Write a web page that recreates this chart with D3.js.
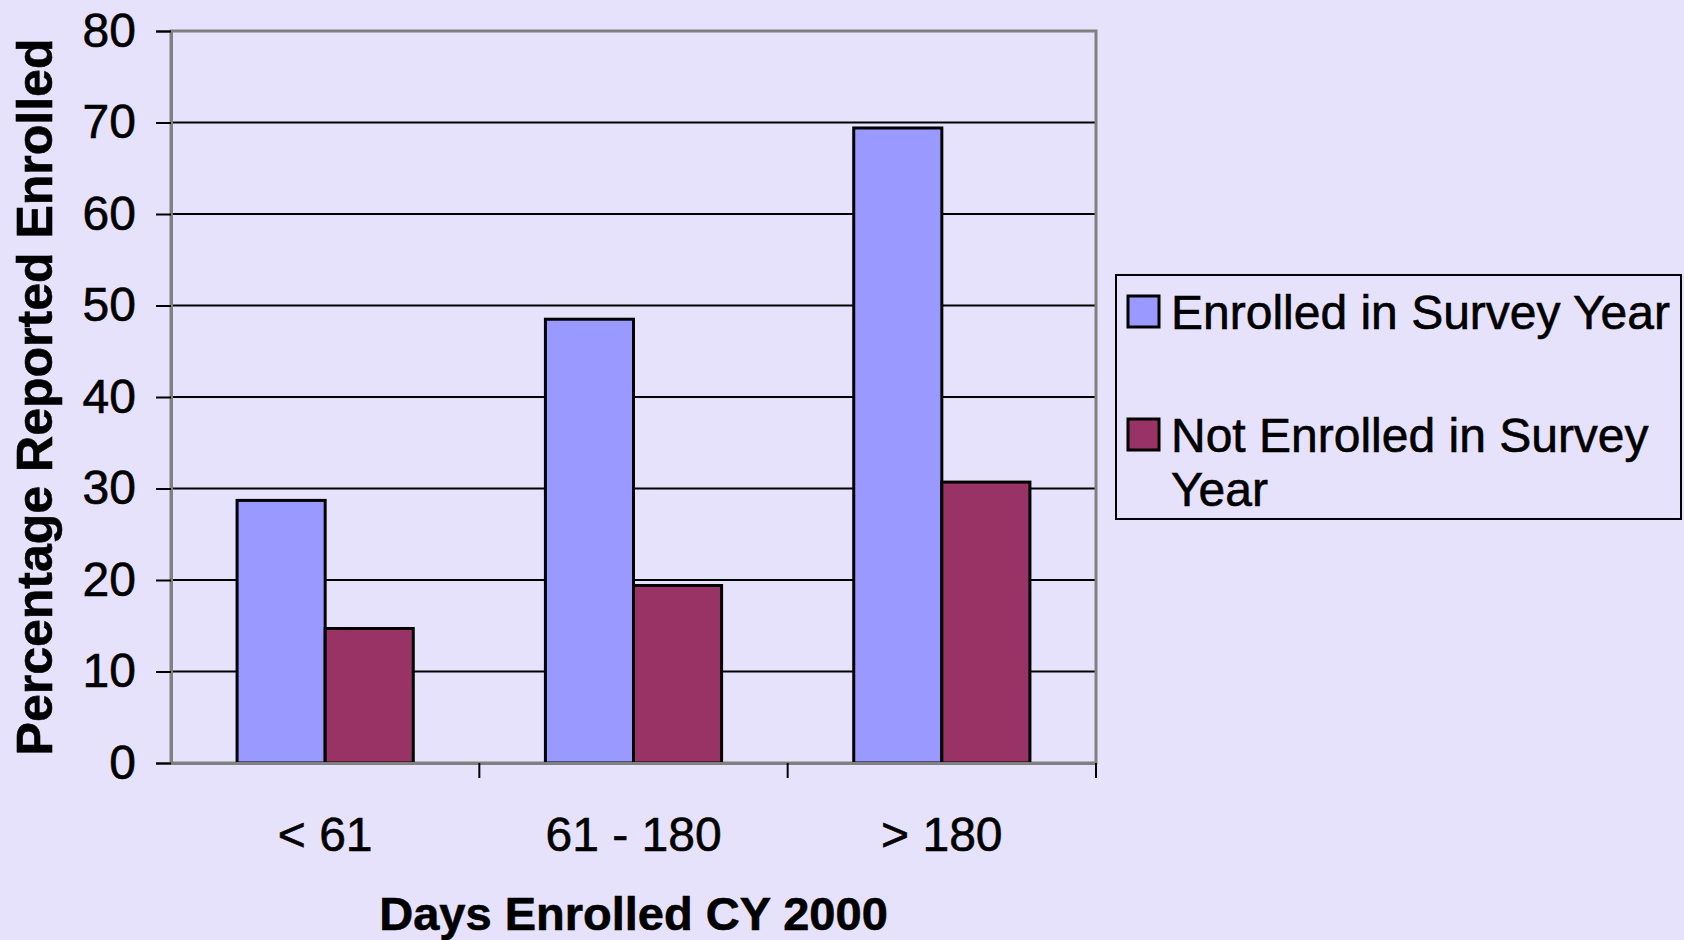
<!DOCTYPE html>
<html>
<head>
<meta charset="utf-8">
<script src="https://cdn.jsdelivr.net/npm/d3@7"></script>
<style>
  html, body { margin: 0; padding: 0; background: #e6e2fc; }
  svg { display: block; font-family: "Liberation Sans", Arial, sans-serif; }
  text { stroke: #000; stroke-width: 0.6px; }
</style>
</head>
<body>
<svg id="chart" width="1684" height="940"></svg>
<script>
// chart data
var categories = ["< 61", "61 - 180", "> 180"];
var seriesNames = ["Enrolled in Survey Year", "Not Enrolled in Survey Year"];
var legendLines = [["Enrolled in Survey Year"], ["Not Enrolled in Survey", "Year"]];
var enrolled = [28.7, 48.5, 69.4];
var notEnrolled = [14.7, 19.4, 30.7];
var yTicks = [0, 10, 20, 30, 40, 50, 60, 70, 80];
var colors = ["#9999ff", "#993366"];

var svg = d3.select("#chart");
// plot area (note: "top" is reserved on window, so use plotTop etc)
var plotLeft = 171, plotRight = 1096, plotTop = 31, plotBottom = 763;

var x = d3.scaleBand().domain(categories).range([plotLeft, plotRight]);
var inner = d3.scaleBand().domain(seriesNames)
    .range([0, x.bandwidth()]).paddingInner(0).paddingOuter(0.75);
var y = d3.scaleLinear().domain([0, 80]).range([plotBottom, plotTop]);

// gridlines
svg.append("g")
    .selectAll("line")
    .data(yTicks.filter(function(d) { return d > 0 && d < 80; }))
    .join("line")
      .attr("x1", plotLeft).attr("x2", plotRight)
      .attr("y1", function(d) { return y(d); })
      .attr("y2", function(d) { return y(d); })
      .attr("stroke", "#000").attr("stroke-width", 2);

// plot frame
svg.append("rect")
    .attr("x", plotLeft).attr("y", plotTop)
    .attr("width", plotRight - plotLeft).attr("height", plotBottom - plotTop)
    .attr("fill", "none").attr("stroke", "#808080").attr("stroke-width", 3);

// bars
var rows = categories.map(function(c, i) {
    return [{cat: c, s: 0, v: enrolled[i]}, {cat: c, s: 1, v: notEnrolled[i]}];
});
svg.append("g")
    .selectAll("g")
    .data(rows)
    .join("g")
      .attr("transform", function(d) { return "translate(" + x(d[0].cat) + ",0)"; })
    .selectAll("rect")
    .data(function(d) { return d; })
    .join("rect")
      .attr("x", function(d) { return inner(seriesNames[d.s]); })
      .attr("width", inner.bandwidth())
      .attr("y", function(d) { return y(d.v); })
      .attr("height", function(d) { return y(0) - y(d.v); })
      .attr("fill", function(d) { return colors[d.s]; })
      .attr("stroke", "#000").attr("stroke-width", 3);

// y axis
var yAxis = d3.axisLeft(y).tickValues(yTicks).tickSize(15).tickPadding(20);
var yg = svg.append("g").attr("transform", "translate(" + plotLeft + ",0)").call(yAxis);
yg.select(".domain").attr("stroke", "#808080").attr("stroke-width", 3);
yg.selectAll(".tick line").attr("stroke", "#000").attr("stroke-width", 2);
yg.selectAll(".tick text").attr("font-size", 48).attr("fill", "#000")
    .attr("font-family", "Liberation Sans, Arial, sans-serif");

// x axis
var xAxis = d3.axisBottom(x).tickSize(0).tickPadding(54);
var xg = svg.append("g").attr("transform", "translate(0," + plotBottom + ")").call(xAxis);
xg.select(".domain").attr("stroke", "#808080").attr("stroke-width", 3);
xg.selectAll(".tick text").attr("font-size", 48).attr("fill", "#000")
    .attr("font-family", "Liberation Sans, Arial, sans-serif");
// category boundary ticks
xg.selectAll(".sep")
    .data(categories.map(function(c) { return x(c); }).concat([plotRight]).slice(1))
    .join("line")
      .attr("class", "sep")
      .attr("x1", function(d) { return d; }).attr("x2", function(d) { return d; })
      .attr("y1", 0).attr("y2", 15)
      .attr("stroke", "#000").attr("stroke-width", 2);

// axis titles
svg.append("text")
    .attr("transform", "translate(52," + ((plotTop + plotBottom) / 2) + ") rotate(-90)")
    .attr("text-anchor", "middle")
    .attr("font-size", 50).attr("font-weight", "bold")
    .text("Percentage Reported Enrolled");

svg.append("text")
    .attr("x", (plotLeft + plotRight) / 2).attr("y", 930)
    .attr("text-anchor", "middle")
    .attr("font-size", 47).attr("font-weight", "bold")
    .text("Days Enrolled CY 2000");

// legend
var legend = svg.append("g");
legend.append("rect")
    .attr("x", 1116).attr("y", 275)
    .attr("width", 565).attr("height", 244)
    .attr("fill", "none").attr("stroke", "#000").attr("stroke-width", 2);

var items = legend.selectAll(".item")
    .data(legendLines)
    .join("g")
      .attr("class", "item")
      .attr("transform", function(d, i) { return "translate(1128," + (296 + i * 123) + ")"; });
items.append("rect")
    .attr("width", 31).attr("height", 31)
    .attr("fill", function(d, i) { return colors[i]; })
    .attr("stroke", "#000").attr("stroke-width", 3);
items.append("text")
    .attr("x", 43).attr("y", 33)
    .attr("font-size", 48)
    .selectAll("tspan")
    .data(function(d) { return d; })
    .join("tspan")
      .attr("x", 43)
      .attr("dy", function(d, i) { return i === 0 ? 0 : 54; })
      .text(function(d) { return d; });
</script>
</body>
</html>
